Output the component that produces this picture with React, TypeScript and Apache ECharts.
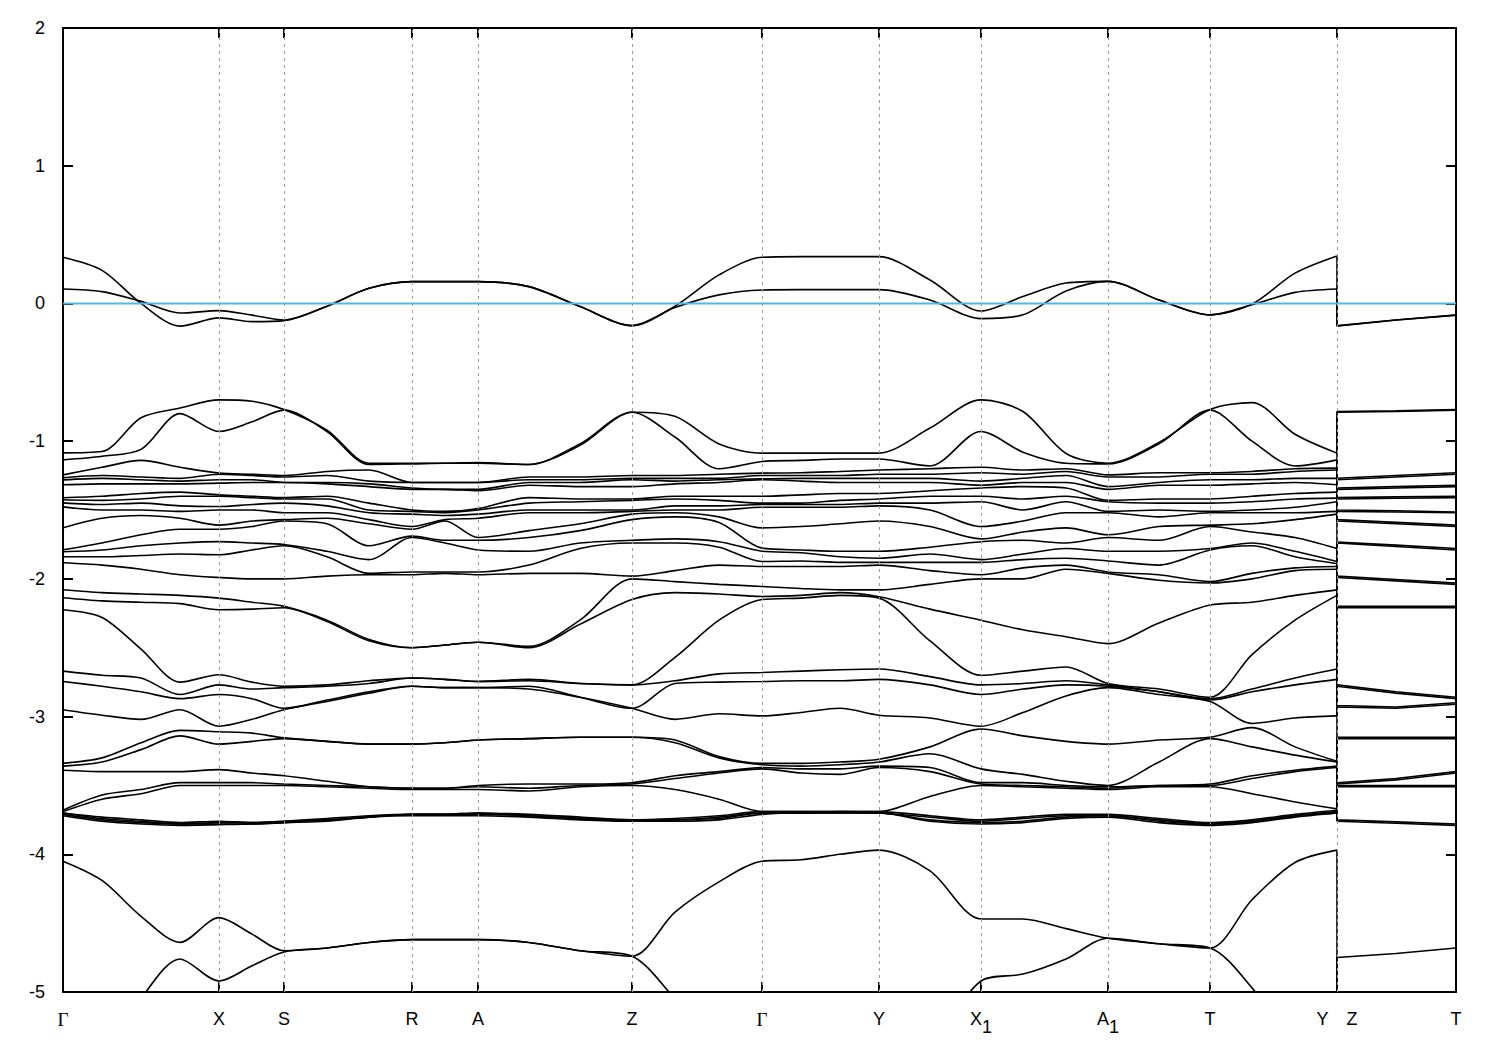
import { useEffect, useRef } from "react";
import * as echarts from "echarts";

// k-path distance of every sampled k-point (Y|Z break appears twice)
const kPath = [0, 39, 78, 117, 156, 189, 221, 264, 306, 349, 382, 415, 466, 517, 569, 612, 656, 699, 738, 777, 816, 867, 918, 960, 1003, 1045, 1096, 1147, 1189, 1232, 1274, 1274, 1333, 1393];
// high-symmetry points
const tickK = [0, 156, 221, 349, 415, 569, 699, 816, 918, 1045, 1147, 1274, 1393];
const tickLabels = ["Γ", "X", "S", "R", "A", "Z", "Γ", "Y", "X1", "A1", "T", "Y Z", "T"];
const fermiLevel = 0;
const yTickValues = [2, 1, 0, -1, -2, -3, -4, -5];

// eigenvalues (eV) at each k-point, band order
const ev00 = [0.335, 0.105, -1.085, -1.136, -1.245, -1.266, -1.281, -1.317, -1.411, -1.426, -1.448, -1.477, -1.629, -1.789, -1.803, -1.839, -1.883, -2.079, -2.137, -2.224, -2.67, -2.745, -2.95, -3.34, -3.36, -3.39, -3.68, -3.69, -3.70, -3.70, -3.71, -3.72, -4.05, -5.6];
const ev01 = [0.24, 0.086, -1.075, -1.11, -1.19, -1.25, -1.27, -1.31, -1.40, -1.43, -1.46, -1.50, -1.56, -1.74, -1.79, -1.84, -1.90, -2.10, -2.16, -2.28, -2.70, -2.78, -2.99, -3.30, -3.33, -3.40, -3.57, -3.60, -3.73, -3.74, -3.75, -3.76, -4.19, -5.5];
const ev02 = [0.0, 0.015, -0.83, -1.06, -1.14, -1.26, -1.28, -1.31, -1.38, -1.42, -1.45, -1.50, -1.54, -1.68, -1.76, -1.83, -1.93, -2.11, -2.17, -2.51, -2.72, -2.82, -3.02, -3.19, -3.24, -3.40, -3.53, -3.56, -3.75, -3.76, -3.77, -3.78, -4.45, -5.05];
const ev03 = [-0.165, -0.07, -0.76, -0.80, -1.19, -1.27, -1.29, -1.31, -1.37, -1.40, -1.47, -1.51, -1.56, -1.64, -1.74, -1.82, -1.97, -2.12, -2.18, -2.75, -2.84, -2.87, -2.95, -3.10, -3.14, -3.40, -3.48, -3.50, -3.77, -3.78, -3.78, -3.79, -4.64, -4.76];
const ev04 = [-0.105, -0.052, -0.70, -0.93, -1.232, -1.24, -1.28, -1.305, -1.39, -1.40, -1.475, -1.50, -1.61, -1.64, -1.73, -1.825, -1.99, -2.14, -2.224, -2.696, -2.77, -2.84, -3.07, -3.11, -3.20, -3.385, -3.48, -3.50, -3.76, -3.77, -3.78, -3.785, -4.46, -4.92];
const ev05 = [-0.132, -0.085, -0.71, -0.86, -1.24, -1.25, -1.28, -1.30, -1.40, -1.41, -1.46, -1.50, -1.58, -1.62, -1.74, -1.79, -2.00, -2.17, -2.22, -2.75, -2.80, -2.87, -3.02, -3.12, -3.18, -3.41, -3.48, -3.50, -3.77, -3.77, -3.78, -3.78, -4.58, -4.81];
const ev06 = [-0.125, -0.12, -0.77, -0.775, -1.25, -1.26, -1.30, -1.30, -1.41, -1.42, -1.45, -1.52, -1.57, -1.58, -1.75, -1.76, -2.00, -2.20, -2.21, -2.78, -2.79, -2.94, -2.95, -3.155, -3.16, -3.43, -3.49, -3.50, -3.76, -3.76, -3.77, -3.77, -4.70, -4.71];
const ev07 = [-0.02, -0.02, -0.92, -0.93, -1.22, -1.25, -1.30, -1.31, -1.40, -1.42, -1.47, -1.52, -1.56, -1.60, -1.80, -1.84, -1.98, -2.30, -2.31, -2.77, -2.78, -2.88, -2.89, -3.18, -3.18, -3.47, -3.50, -3.51, -3.74, -3.75, -3.75, -3.76, -4.68, -4.68];
const ev08 = [0.11, 0.11, -1.16, -1.17, -1.21, -1.29, -1.31, -1.33, -1.45, -1.50, -1.52, -1.57, -1.60, -1.76, -1.86, -1.96, -1.97, -2.44, -2.45, -2.74, -2.76, -2.82, -2.83, -3.20, -3.20, -3.51, -3.51, -3.52, -3.72, -3.73, -3.73, -3.73, -4.64, -4.64];
const ev09 = [0.158, 0.158, -1.16, -1.165, -1.30, -1.30, -1.34, -1.35, -1.50, -1.51, -1.53, -1.62, -1.64, -1.69, -1.70, -1.95, -1.97, -2.50, -2.50, -2.72, -2.72, -2.78, -2.78, -3.20, -3.20, -3.52, -3.52, -3.53, -3.71, -3.71, -3.71, -3.72, -4.62, -4.62];
const ev10 = [0.158, 0.158, -1.16, -1.16, -1.30, -1.30, -1.35, -1.35, -1.51, -1.52, -1.54, -1.57, -1.58, -1.72, -1.74, -1.95, -1.96, -2.48, -2.48, -2.73, -2.73, -2.79, -2.79, -3.19, -3.19, -3.52, -3.52, -3.53, -3.71, -3.71, -3.71, -3.72, -4.62, -4.62];
const ev11 = [0.158, 0.158, -1.155, -1.16, -1.30, -1.30, -1.35, -1.36, -1.49, -1.50, -1.53, -1.56, -1.70, -1.72, -1.79, -1.95, -1.97, -2.46, -2.46, -2.745, -2.745, -2.79, -2.79, -3.17, -3.17, -3.50, -3.51, -3.53, -3.70, -3.70, -3.71, -3.72, -4.62, -4.62];
const ev12 = [0.122, 0.122, -1.17, -1.17, -1.26, -1.28, -1.30, -1.32, -1.41, -1.45, -1.50, -1.52, -1.65, -1.70, -1.80, -1.90, -1.96, -2.49, -2.50, -2.73, -2.74, -2.78, -2.80, -3.16, -3.16, -3.49, -3.52, -3.54, -3.71, -3.72, -3.72, -3.73, -4.64, -4.64];
const ev13 = [-0.023, -0.023, -1.02, -1.03, -1.26, -1.28, -1.30, -1.33, -1.42, -1.44, -1.50, -1.52, -1.60, -1.65, -1.74, -1.78, -1.96, -2.30, -2.33, -2.76, -2.76, -2.86, -2.86, -3.15, -3.15, -3.49, -3.50, -3.51, -3.73, -3.74, -3.74, -3.75, -4.70, -4.70];
const ev14 = [-0.161, -0.161, -0.79, -0.79, -1.25, -1.27, -1.28, -1.33, -1.42, -1.43, -1.50, -1.51, -1.53, -1.57, -1.72, -1.74, -1.98, -2.00, -2.15, -2.77, -2.77, -2.94, -2.94, -3.15, -3.15, -3.48, -3.49, -3.50, -3.75, -3.75, -3.76, -3.76, -4.74, -4.74];
const ev15 = [-0.02, -0.03, -0.82, -0.97, -1.25, -1.27, -1.29, -1.31, -1.40, -1.42, -1.47, -1.50, -1.52, -1.55, -1.71, -1.74, -1.94, -2.02, -2.10, -2.57, -2.74, -2.76, -3.02, -3.17, -3.19, -3.43, -3.45, -3.53, -3.74, -3.75, -3.75, -3.76, -4.42, -5.05];
const ev16 = [0.207, 0.062, -1.02, -1.20, -1.24, -1.27, -1.28, -1.30, -1.40, -1.43, -1.47, -1.50, -1.55, -1.59, -1.73, -1.77, -1.90, -2.04, -2.11, -2.30, -2.69, -2.75, -2.98, -3.29, -3.30, -3.40, -3.41, -3.60, -3.72, -3.73, -3.74, -3.75, -4.20, -5.4];
const ev17 = [0.335, 0.098, -1.087, -1.148, -1.232, -1.25, -1.274, -1.28, -1.40, -1.45, -1.46, -1.48, -1.63, -1.777, -1.80, -1.874, -1.91, -2.055, -2.128, -2.15, -2.68, -2.745, -2.995, -3.34, -3.35, -3.37, -3.38, -3.69, -3.69, -3.70, -3.70, -3.71, -4.05, -5.6];
const ev18 = [0.34, 0.1, -1.087, -1.14, -1.23, -1.25, -1.27, -1.29, -1.39, -1.45, -1.46, -1.48, -1.62, -1.79, -1.81, -1.87, -1.91, -2.07, -2.12, -2.14, -2.67, -2.74, -2.97, -3.34, -3.36, -3.38, -3.41, -3.69, -3.69, -3.70, -3.70, -3.70, -4.04, -5.6];
const ev19 = [0.34, 0.1, -1.087, -1.13, -1.22, -1.25, -1.27, -1.30, -1.38, -1.43, -1.46, -1.48, -1.60, -1.80, -1.84, -1.88, -1.91, -2.08, -2.10, -2.12, -2.66, -2.74, -2.94, -3.33, -3.35, -3.38, -3.42, -3.69, -3.69, -3.69, -3.70, -3.70, -4.00, -5.6];
const ev20 = [0.34, 0.1, -1.087, -1.13, -1.21, -1.24, -1.27, -1.30, -1.38, -1.42, -1.45, -1.47, -1.58, -1.80, -1.85, -1.88, -1.90, -2.08, -2.13, -2.14, -2.655, -2.73, -2.99, -3.31, -3.33, -3.36, -3.37, -3.69, -3.69, -3.70, -3.70, -3.70, -3.97, -5.6];
const ev21 = [0.17, 0.025, -0.905, -1.18, -1.20, -1.24, -1.27, -1.30, -1.36, -1.40, -1.45, -1.50, -1.62, -1.77, -1.82, -1.88, -1.94, -2.04, -2.22, -2.45, -2.71, -2.77, -3.01, -3.22, -3.27, -3.37, -3.40, -3.58, -3.72, -3.73, -3.75, -3.76, -4.12, -5.4];
const ev22 = [-0.055, -0.11, -0.70, -0.93, -1.19, -1.23, -1.29, -1.32, -1.34, -1.40, -1.44, -1.62, -1.71, -1.73, -1.86, -1.88, -1.97, -2.00, -2.30, -2.70, -2.77, -2.84, -3.07, -3.09, -3.38, -3.48, -3.49, -3.50, -3.75, -3.76, -3.77, -3.78, -4.47, -4.92];
const ev23 = [0.05, -0.083, -0.785, -1.08, -1.21, -1.24, -1.27, -1.30, -1.33, -1.42, -1.50, -1.58, -1.66, -1.72, -1.82, -1.86, -1.92, -2.00, -2.37, -2.67, -2.76, -2.80, -2.97, -3.14, -3.42, -3.48, -3.50, -3.51, -3.73, -3.74, -3.76, -3.77, -4.47, -4.87];
const ev24 = [0.148, 0.09, -1.09, -1.16, -1.20, -1.22, -1.25, -1.30, -1.34, -1.40, -1.44, -1.52, -1.63, -1.74, -1.78, -1.85, -1.90, -1.93, -2.42, -2.64, -2.74, -2.77, -2.85, -3.18, -3.47, -3.50, -3.51, -3.52, -3.71, -3.72, -3.73, -3.74, -4.54, -4.76];
const ev25 = [0.16, 0.16, -1.16, -1.165, -1.245, -1.26, -1.33, -1.35, -1.43, -1.44, -1.51, -1.52, -1.68, -1.70, -1.80, -1.87, -1.95, -1.96, -2.47, -2.76, -2.77, -2.78, -2.79, -3.20, -3.50, -3.51, -3.52, -3.53, -3.71, -3.72, -3.72, -3.73, -4.61, -4.61];
const ev26 = [0.025, 0.025, -1.01, -1.02, -1.23, -1.26, -1.30, -1.32, -1.42, -1.45, -1.50, -1.55, -1.62, -1.72, -1.80, -1.90, -1.97, -2.01, -2.32, -2.80, -2.82, -2.82, -2.84, -3.17, -3.33, -3.50, -3.50, -3.51, -3.74, -3.75, -3.76, -3.77, -4.65, -4.65];
const ev27 = [-0.083, -0.083, -0.77, -0.775, -1.23, -1.24, -1.28, -1.32, -1.42, -1.45, -1.51, -1.52, -1.61, -1.62, -1.78, -1.79, -2.02, -2.03, -2.19, -2.86, -2.87, -2.88, -2.89, -3.15, -3.16, -3.49, -3.50, -3.51, -3.77, -3.78, -3.78, -3.79, -4.68, -4.68];
const ev28 = [-0.005, -0.01, -0.72, -1.00, -1.22, -1.24, -1.28, -1.31, -1.40, -1.44, -1.50, -1.52, -1.60, -1.66, -1.74, -1.76, -1.96, -2.00, -2.17, -2.55, -2.80, -2.82, -3.05, -3.08, -3.22, -3.43, -3.45, -3.56, -3.75, -3.76, -3.76, -3.77, -4.33, -4.97];
const ev29 = [0.22, 0.08, -0.95, -1.18, -1.20, -1.22, -1.27, -1.30, -1.38, -1.42, -1.48, -1.52, -1.57, -1.70, -1.80, -1.84, -1.92, -1.94, -2.12, -2.30, -2.72, -2.77, -3.01, -3.22, -3.28, -3.39, -3.40, -3.62, -3.71, -3.72, -3.72, -3.73, -4.06, -5.4];
const ev30 = [0.345, 0.105, -1.087, -1.136, -1.196, -1.21, -1.27, -1.317, -1.37, -1.414, -1.44, -1.51, -1.53, -1.78, -1.874, -1.89, -1.91, -1.93, -2.08, -2.12, -2.655, -2.73, -2.995, -3.325, -3.33, -3.36, -3.37, -3.67, -3.68, -3.69, -3.70, -3.70, -3.97, -5.6];
const ev31 = [-0.163, -0.163, -0.79, -1.27, -1.28, -1.34, -1.35, -1.41, -1.42, -1.50, -1.51, -1.57, -1.58, -1.733, -1.74, -1.98, -1.99, -2.20, -2.21, -2.77, -2.78, -2.92, -2.93, -3.15, -3.16, -3.48, -3.49, -3.50, -3.51, -3.75, -3.76, -0.785, -5.4, -4.75];
const ev32 = [-0.12, -0.12, -0.785, -1.25, -1.26, -1.33, -1.34, -1.405, -1.415, -1.505, -1.515, -1.59, -1.60, -1.755, -1.765, -2.005, -2.015, -2.20, -2.21, -2.82, -2.83, -2.93, -2.94, -3.15, -3.16, -3.45, -3.46, -3.50, -3.51, -3.765, -3.775, -0.78, -5.4, -4.72];
const ev33 = [-0.085, -0.085, -0.775, -1.23, -1.24, -1.32, -1.33, -1.40, -1.41, -1.515, -1.52, -1.61, -1.62, -1.78, -1.79, -2.03, -2.04, -2.20, -2.21, -2.86, -2.87, -2.90, -2.91, -3.15, -3.16, -3.40, -3.41, -3.50, -3.51, -3.78, -3.79, -0.77, -5.4, -4.68];

const eigenvalues = [ev00, ev01, ev02, ev03, ev04, ev05, ev06, ev07, ev08, ev09, ev10, ev11, ev12, ev13, ev14, ev15, ev16, ev17, ev18, ev19, ev20, ev21, ev22, ev23, ev24, ev25, ev26, ev27, ev28, ev29, ev30, ev31, ev32, ev33];

function labelFor(v: number): string {
  let i = -1;
  for (let j = 0; j < tickK.length; j++) if (Math.abs(tickK[j] - v) < 0.5) i = j;
  const t = i >= 0 ? tickLabels[i] : "";
  if (t === "Γ") return "{g|Γ}";
  if (t === "X1") return "{bs|X}{s|1}";
  if (t === "A1") return "{bs|A}{s|1}";
  if (t === "Y Z") return "{b|Y}{z|Z}";
  return "{b|" + t + "}";
}

export default function App() {
  const ref = useRef<HTMLDivElement>(null);
  useEffect(() => {
    if (!ref.current) return;
    const chart = echarts.init(ref.current, null, { renderer: "svg" });
    const breakIdx = kPath.indexOf(tickK[11]);
    const nBands = ev00.length;
    const series: any[] = [];
    const black = "#000000";
    const font = "Liberation Sans, Arial, sans-serif";
    const fs = 18;

    series.push({
      type: "line",
      name: "grid",
      data: [[kPath[0], fermiLevel], [kPath[kPath.length - 1], fermiLevel]],
      showSymbol: false,
      lineStyle: { opacity: 0 },
      silent: true,
      z: 1,
      markLine: {
        silent: true,
        symbol: ["none", "none"],
        label: { show: false },
        lineStyle: { type: [3, 4], color: "#9a9a9a", width: 1 },
        data: tickK.slice(1, -1).map((k) => ({ xAxis: k })),
      },
    });

    for (let b = 0; b < nBands; b++) {
      const partA: number[][] = [];
      for (let i = 0; i <= breakIdx; i++) partA.push([kPath[i], eigenvalues[i][b]]);
      const partB: number[][] = [];
      for (let i = breakIdx; i < kPath.length; i++) partB.push([kPath[i], eigenvalues[i][b]]);
      const common = {
        type: "line",
        showSymbol: false,
        symbol: "none",
        silent: true,
        clip: true,
        z: 3,
        lineStyle: { color: black, width: 1.6 },
      };
      series.push({ ...common, data: partA, smooth: 0.3 });
      series.push({ ...common, data: partB, smooth: false });
    }

    series.push({
      type: "line",
      name: "Fermi",
      data: [[kPath[0], fermiLevel], [kPath[kPath.length - 1], fermiLevel]],
      showSymbol: false,
      symbol: "none",
      silent: true,
      z: 5,
      lineStyle: { color: "#56b4e9", width: 2 },
    });

    const xCommon = {
      type: "value",
      min: kPath[0],
      max: kPath[kPath.length - 1],
      axisLine: { show: true, onZero: false, lineStyle: { color: black, width: 2 } },
      axisTick: { show: true, inside: true, length: 10, customValues: tickK, lineStyle: { color: black, width: 2 } },
      splitLine: { show: false },
    };
    const yCommon = {
      type: "value",
      min: -5,
      max: 2,
      interval: 1,
      axisLine: { show: true, onZero: false, lineStyle: { color: black, width: 2 } },
      axisTick: { show: true, inside: true, length: 10, lineStyle: { color: black, width: 2 } },
      splitLine: { show: false },
    };

    chart.setOption({
      animation: false,
      backgroundColor: "#ffffff",
      grid: { left: 63, right: 44, top: 28, bottom: 58, containLabel: false },
      xAxis: [
        {
          ...xCommon,
          position: "bottom",
          axisLabel: {
            show: true,
            customValues: tickK,
            margin: 18,
            formatter: (v: number) => labelFor(v),
            rich: {
              b: { fontFamily: font, fontSize: fs, color: black },
              bs: { fontFamily: font, fontSize: fs, color: black, padding: [0, 0, 8, 0] },
              s: { fontFamily: font, fontSize: fs, color: black, padding: [8, 0, 0, 0] },
              z: { fontFamily: font, fontSize: fs, color: black, padding: [0, 0, 0, 18] },
              g: { fontFamily: "Liberation Serif, DejaVu Serif, serif", fontSize: 19, color: black },
            },
          },
        },
        { ...xCommon, position: "top", axisLabel: { show: false } },
      ],
      yAxis: [
        {
          ...yCommon,
          position: "left",
          axisLabel: {
            show: true,
            margin: 18,
            fontFamily: font,
            fontSize: fs,
            color: black,
            customValues: yTickValues,
          },
        },
        { ...yCommon, position: "right", axisLabel: { show: false } },
      ],
      series,
    });
    return () => chart.dispose();
  }, []);
  return (
    <div
      ref={ref}
      style={{ position: "absolute", left: 0, top: 0, width: 1500, height: 1050, background: "#fff" }}
    />
  );
}
